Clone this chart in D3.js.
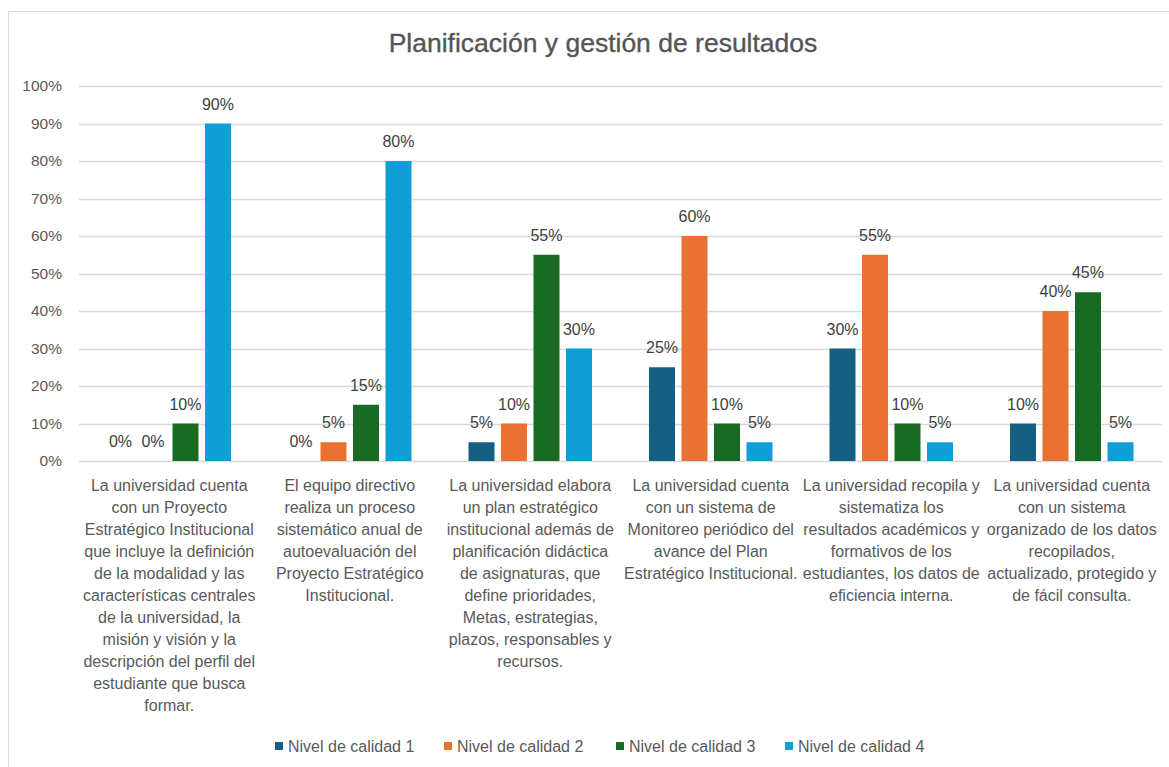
<!DOCTYPE html>
<html>
<head>
<meta charset="utf-8">
<script src="https://cdn.jsdelivr.net/npm/d3@7"></script>
<style>
  html, body { margin: 0; padding: 0; background: #ffffff; }
  svg { display: block; font-family: "Liberation Sans", Arial, sans-serif; }
</style>
</head>
<body>
<svg id="chart" width="1169" height="767"></svg>
<script>
// Chart title
const title = "Planificación y gestión de resultados";

// Category labels, one array of wrapped lines per category
const categories = [
  ["La universidad cuenta", "con un Proyecto", "Estratégico Institucional", "que incluye la definición",
   "de la modalidad y las", "características centrales", "de la universidad, la",
   "misión y visión y la", "descripción del perfil del", "estudiante que busca", "formar."],
  ["El equipo directivo", "realiza un proceso", "sistemático anual de", "autoevaluación del",
   "Proyecto Estratégico", "Institucional."],
  ["La universidad elabora", "un plan estratégico", "institucional además de", "planificación didáctica",
   "de asignaturas, que", "define prioridades,", "Metas, estrategias,", "plazos, responsables y", "recursos."],
  ["La universidad cuenta", "con un sistema de", "Monitoreo periódico del", "avance del Plan",
   "Estratégico Institucional."],
  ["La universidad recopila y", "sistematiza los", "resultados académicos y", "formativos de los",
   "estudiantes, los datos de", "eficiencia interna."],
  ["La universidad cuenta", "con un sistema", "organizado de los datos", "recopilados,",
   "actualizado, protegido y", "de fácil consulta."]
];

// Series names
const seriesNames = ["Nivel de calidad 1", "Nivel de calidad 2", "Nivel de calidad 3", "Nivel de calidad 4"];

// Values (%) per series, in category order
const nivel1 = [0, 0, 5, 25, 30, 10];
const nivel2 = [0, 5, 10, 60, 55, 40];
const nivel3 = [10, 15, 55, 10, 10, 45];
const nivel4 = [90, 80, 30, 5, 5, 5];

// Y axis ticks
const yTicks = [0, 10, 20, 30, 40, 50, 60, 70, 80, 90, 100];

const colors = ["#156082", "#E97132", "#196B24", "#0F9ED5"];
const seriesValues = [nivel1, nivel2, nivel3, nivel4];

const svg = d3.select("#chart");

// outer chart frame
svg.append("rect")
  .attr("x", 8.5).attr("y", 11.5)
  .attr("width", 1200).attr("height", 800)
  .attr("fill", "#ffffff")
  .attr("stroke", "#d9d9d9").attr("stroke-width", 1);

const plot = { left: 79, right: 1162, top: 86, bottom: 461 };

const y = d3.scaleLinear().domain([0, 100]).range([plot.bottom, plot.top]);
const catIdx = categories.map((d, i) => i);
const x0 = d3.scaleBand().domain(catIdx).range([plot.left, plot.right]).padding(0);
const x1 = d3.scaleBand().domain(d3.range(seriesNames.length))
  .range([0, x0.bandwidth()]).paddingInner(0.2).paddingOuter(0.877);

// title
svg.append("text")
  .attr("x", 603).attr("y", 52)
  .attr("text-anchor", "middle")
  .attr("font-size", 26.5)
  .attr("fill", "#555555")
  .attr("stroke", "#555555").attr("stroke-width", 0.35)
  .text(title);

// gridlines
svg.append("g").selectAll("line").data(yTicks).join("line")
  .attr("x1", plot.left).attr("x2", plot.right)
  .attr("y1", d => Math.round(y(d)) + 0.5).attr("y2", d => Math.round(y(d)) + 0.5)
  .attr("stroke", "#d9d9d9").attr("stroke-width", 1.3);

// y axis labels
const yAxis = d3.axisLeft(y).tickValues(yTicks).tickFormat(d => d + "%").tickSize(0).tickPadding(0);
const yg = svg.append("g").attr("transform", `translate(${62},0)`).call(yAxis);
yg.select(".domain").remove();
yg.selectAll("text")
  .attr("font-size", 15.5)
  .attr("font-family", "Liberation Sans, Arial, sans-serif")
  .attr("fill", "#595959");

// bars and value labels
seriesValues.forEach((vals, si) => {
  const g = svg.append("g");
  g.selectAll("rect").data(vals).join("rect")
    .attr("x", (d, ci) => x0(ci) + x1(si))
    .attr("y", d => y(d))
    .attr("width", x1.bandwidth())
    .attr("height", d => y(0) - y(d))
    .attr("fill", colors[si]);
  g.selectAll("text").data(vals).join("text")
    .attr("x", (d, ci) => x0(ci) + x1(si) + x1.bandwidth() / 2)
    .attr("y", d => y(d) - 14)
    .attr("text-anchor", "middle")
    .attr("font-size", 16)
    .attr("fill", "#404040")
    .text(d => d + "%");
});

// category labels
const cg = svg.append("g").selectAll("text").data(categories).join("text")
  .attr("text-anchor", "middle")
  .attr("font-size", 16)
  .attr("fill", "#595959");
cg.each(function(lines, ci) {
  const t = d3.select(this);
  lines.forEach((ln, li) => {
    t.append("tspan")
      .attr("x", x0(ci) + x0.bandwidth() / 2)
      .attr("y", 491 + li * 22)
      .text(ln);
  });
});

// legend
const legendX = [275, 444, 616, 785];
const lg = svg.append("g").selectAll("g").data(seriesNames).join("g")
  .attr("transform", (d, i) => `translate(${legendX[i]},746)`);
lg.append("rect").attr("x", 0).attr("y", -4).attr("width", 8).attr("height", 8)
  .attr("fill", (d, i) => colors[i]);
lg.append("text").attr("x", 13).attr("y", 6)
  .attr("font-size", 16).attr("fill", "#595959")
  .text(d => d);
</script>
</body>
</html>
